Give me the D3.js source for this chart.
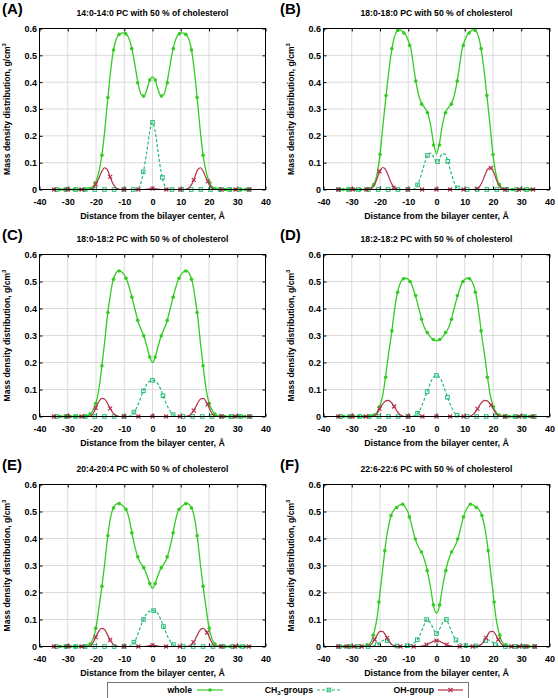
<!DOCTYPE html>
<html><head><meta charset="utf-8">
<script src="https://cdn.jsdelivr.net/npm/d3@7"></script>
<style>body{margin:0;background:#fff}svg{display:block}</style>
</head><body>
<svg id="c" width="558" height="698"></svg>
<script>
// ---------- tick labels / text ----------
const xTicks = [-40,-30,-20,-10,0,10,20,30,40];
const yTicks = [0,0.1,0.2,0.3,0.4,0.5,0.6];
const panelLetters = ["(A)","(B)","(C)","(D)","(E)","(F)"];
const panelTitles = [
  "14:0-14:0 PC with 50 % of cholesterol",
  "18:0-18:0 PC with 50 % of cholesterol",
  "18:0-18:2 PC with 50 % of cholesterol",
  "18:2-18:2 PC with 50 % of cholesterol",
  "20:4-20:4 PC with 50 % of cholesterol",
  "22:6-22:6 PC with 50 % of cholesterol"
];
const seriesNames = ["whole","CH3-groups","OH-group"];

// ---------- panel A ----------
const wholeLineA = [[-35,0],[-24,0],[-23,0.001],[-22,0.004],[-21,0.012],[-20,0.03],[-19,0.065],[-18,0.122],[-17,0.21],[-16,0.32],[-15,0.425],[-14,0.508],[-13,0.556],[-12,0.576],[-11,0.583],[-10,0.584],[-9,0.576],[-8,0.553],[-7,0.51],[-6,0.45],[-5,0.39],[-4,0.354],[-3,0.348],[-2,0.372],[-1,0.406],[0,0.42],[1,0.406],[2,0.372],[3,0.348],[4,0.354],[5,0.39],[6,0.45],[7,0.51],[8,0.553],[9,0.576],[10,0.584],[11,0.583],[12,0.576],[13,0.556],[14,0.508],[15,0.425],[16,0.32],[17,0.21],[18,0.122],[19,0.065],[20,0.03],[21,0.012],[22,0.004],[23,0.001],[24,0],[35,0]];
const wholePtsA = [[-32.9,0],[-31.2,0],[-29.5,0],[-27.7,0],[-25.8,0],[-24,0],[-22.2,0.004],[-20.3,0.025],[-17.9,0.128],[-15.8,0.343],[-13.8,0.52],[-11.8,0.578],[-9.5,0.58],[-7.35,0.525],[-5.25,0.398],[-3.15,0.348],[-1,0.408],[1,0.408],[3.15,0.348],[5.25,0.398],[7.35,0.525],[9.5,0.58],[11.8,0.578],[13.8,0.52],[15.8,0.343],[17.9,0.128],[20.3,0.025],[22.2,0.004],[24,0],[25.8,0],[27.7,0],[29.5,0],[31.2,0],[32.9,0]];
const ch3LineA = [[-35,0],[-6,0],[-5,0.005],[-4,0.028],[-3,0.078],[-2,0.14],[-1,0.215],[0,0.25],[1,0.213],[2,0.138],[3,0.068],[4,0.024],[5,0.005],[6,0],[35,0]];
const ch3PtsA = [[-34,0],[-30.6,0],[-27.2,0],[-23.8,0],[-20.4,0],[-17,0],[-13.6,0],[-10.2,0],[-6.8,0],[-3.3,0.066],[0,0.25],[3.5,0.045],[6.9,0],[10.3,0],[13.7,0],[17.1,0],[20.5,0],[23.9,0],[27.3,0],[30.7,0],[34.1,0]];
const ohLineA = [[-35,0],[-22,0],[-21,0.006],[-20,0.02],[-19,0.042],[-18,0.066],[-17,0.081],[-16,0.074],[-15,0.047],[-14,0.022],[-13,0.007],[-12,0.002],[-11,0],[-3,0],[-1,0.002],[0,0.003],[1,0.002],[3,0],[11,0],[12,0.002],[13,0.007],[14,0.022],[15,0.047],[16,0.074],[17,0.081],[18,0.066],[19,0.042],[20,0.02],[21,0.006],[22,0],[35,0]];
const ohPtsA = [[-34.8,0],[-30,0],[-25.1,0],[-20.1,0.02],[-15,0.047],[-10,0],[-5,0],[0,0.003],[4.9,0],[9.8,0],[14.6,0.036],[19.6,0.03],[24.5,0],[29.4,0],[34.3,0]];

// ---------- panel B ----------
const wholeLineB = [[-35,0],[-26,0],[-25,0.001],[-24,0.003],[-23,0.008],[-22,0.022],[-21,0.06],[-20,0.13],[-19,0.235],[-18,0.335],[-17,0.43],[-16,0.51],[-15,0.565],[-14,0.59],[-13,0.596],[-12,0.589],[-11,0.578],[-10,0.555],[-9,0.52],[-8,0.45],[-7,0.385],[-6,0.34],[-5,0.316],[-4,0.302],[-3,0.282],[-2,0.235],[-1,0.17],[0,0.133],[1,0.17],[2,0.235],[3,0.282],[4,0.302],[5,0.316],[6,0.34],[7,0.385],[8,0.45],[9,0.52],[10,0.555],[11,0.578],[12,0.589],[13,0.596],[14,0.59],[15,0.565],[16,0.51],[17,0.43],[18,0.335],[19,0.235],[20,0.13],[21,0.06],[22,0.022],[23,0.008],[24,0.003],[25,0.001],[26,0],[35,0]];
const wholePtsB = [[-33,0],[-31,0],[-29,0],[-26.9,0],[-24.7,0.003],[-22.3,0.018],[-20,0.13],[-17.85,0.35],[-15.8,0.525],[-13.7,0.593],[-11.55,0.583],[-9.5,0.537],[-7.35,0.404],[-5.25,0.318],[-3.2,0.286],[-1.05,0.166],[1.05,0.166],[3.2,0.286],[5.25,0.318],[7.35,0.404],[9.5,0.537],[11.55,0.583],[13.7,0.593],[15.8,0.525],[17.85,0.35],[20,0.13],[22.3,0.018],[24.7,0.003],[26.9,0],[29,0],[31,0],[33,0]];
const ch3LineB = [[-35,0],[-9,0],[-8,0.002],[-7,0.01],[-6,0.035],[-5,0.07],[-4,0.105],[-3,0.13],[-2,0.136],[-1,0.12],[0,0.102],[1,0.112],[2,0.134],[3,0.132],[4,0.105],[5,0.068],[6,0.034],[7,0.01],[8,0.002],[9,0],[35,0]];
const ch3PtsB = [[-34.65,0],[-31.15,0],[-27.65,0],[-24.15,0],[-20.65,0],[-17.15,0],[-13.65,0],[-10.15,0],[-6.7,0.017],[-3.2,0.127],[0.35,0.104],[4,0.105],[7.4,0.006],[10.85,0],[14.35,0],[17.85,0],[21.35,0],[24.85,0],[28.35,0],[31.85,0]];
const ohLineB = [[-35,0],[-25,0],[-24,0.001],[-23,0.004],[-22,0.015],[-21,0.042],[-20,0.07],[-19,0.082],[-18,0.074],[-17,0.05],[-16,0.024],[-15,0.008],[-14,0.002],[-13,0],[13,0],[14,0.002],[15,0.008],[16,0.024],[17,0.05],[18,0.074],[19,0.082],[20,0.07],[21,0.042],[22,0.015],[23,0.004],[24,0.001],[25,0],[35,0]];
const ohPtsB = [[-34.7,0],[-29.7,0],[-24.8,0],[-20.2,0.068],[-15.2,0.007],[-10.1,0],[-5.1,0],[0,0],[4.8,0],[9.6,0],[14.4,0.003],[19.3,0.08],[24.3,0],[29.2,0],[34.2,0]];

// ---------- panel C ----------
const wholeLineC = [[-35,0],[-25,0],[-24,0.001],[-23,0.003],[-22,0.01],[-21,0.025],[-20,0.05],[-19,0.1],[-18,0.18],[-17,0.27],[-16,0.37],[-15,0.445],[-14,0.503],[-13,0.53],[-12,0.54],[-11,0.536],[-10,0.524],[-9,0.503],[-8,0.47],[-7,0.43],[-6,0.388],[-5,0.348],[-4,0.322],[-3,0.296],[-2,0.26],[-1,0.222],[0,0.2],[1,0.222],[2,0.26],[3,0.296],[4,0.322],[5,0.348],[6,0.388],[7,0.43],[8,0.47],[9,0.503],[10,0.524],[11,0.536],[12,0.54],[13,0.53],[14,0.503],[15,0.445],[16,0.37],[17,0.27],[18,0.18],[19,0.1],[20,0.05],[21,0.025],[22,0.01],[23,0.003],[24,0.001],[25,0],[35,0]];
const wholePtsC = [[-32.7,0],[-30.9,0],[-29.1,0],[-27.4,0],[-25.6,0],[-24,0.001],[-22.1,0.009],[-20.1,0.048],[-17.9,0.188],[-15.8,0.385],[-13.8,0.508],[-11.8,0.539],[-9.4,0.512],[-7.3,0.442],[-5.2,0.356],[-3.1,0.299],[-0.95,0.22],[0.95,0.22],[3.1,0.299],[5.2,0.356],[7.3,0.442],[9.4,0.512],[11.8,0.539],[13.8,0.508],[15.8,0.385],[17.9,0.188],[20.1,0.048],[22.1,0.009],[24,0.001],[25.6,0],[27.4,0],[29.1,0],[30.9,0],[32.7,0]];
const ch3LineC = [[-35,0],[-9,0],[-8,0.002],[-7,0.01],[-6,0.025],[-5,0.047],[-4,0.075],[-3,0.1],[-2,0.12],[-1,0.131],[0,0.134],[1,0.131],[2,0.12],[3,0.098],[4,0.07],[5,0.045],[6,0.024],[7,0.01],[8,0.002],[9,0],[35,0]];
const ch3PtsC = [[-34,0],[-30.6,0],[-27.2,0],[-23.8,0],[-20.4,0],[-17,0],[-13.6,0],[-10.1,0],[-6.6,0.016],[-3.2,0.095],[0,0.134],[3.7,0.077],[7.3,0.007],[10.8,0],[14.2,0],[17.6,0],[21,0],[24.4,0],[27.8,0],[31.2,0],[34.6,0]];
const ohLineC = [[-35,0],[-23,0],[-22,0.002],[-21,0.012],[-20,0.033],[-19,0.055],[-18,0.067],[-17,0.065],[-16,0.05],[-15,0.03],[-14,0.013],[-13,0.004],[-12,0.001],[-11,0],[11,0],[12,0.001],[13,0.004],[14,0.013],[15,0.03],[16,0.05],[17,0.065],[18,0.067],[19,0.055],[20,0.033],[21,0.012],[22,0.002],[23,0],[35,0]];
const ohPtsC = [[-34.9,0],[-30,0],[-25.1,0],[-20.1,0.032],[-15,0.03],[-10,0],[-5,0],[0,0],[4.8,0],[9.7,0],[14.6,0.022],[19.5,0.045],[24.4,0],[29.3,0],[34.2,0]];

// ---------- panel D ----------
const wholeLineD = [[-35,0],[-25,0],[-24,0.001],[-23,0.002],[-22,0.006],[-21,0.017],[-20,0.04],[-19,0.08],[-18,0.15],[-17,0.23],[-16,0.3],[-15,0.385],[-14,0.45],[-13,0.49],[-12,0.508],[-11,0.512],[-10,0.508],[-9,0.495],[-8,0.465],[-7,0.43],[-6,0.39],[-5,0.35],[-4,0.323],[-3,0.307],[-2,0.293],[-1,0.284],[0,0.281],[1,0.284],[2,0.293],[3,0.307],[4,0.323],[5,0.35],[6,0.39],[7,0.43],[8,0.465],[9,0.495],[10,0.508],[11,0.512],[12,0.508],[13,0.49],[14,0.45],[15,0.385],[16,0.3],[17,0.23],[18,0.15],[19,0.08],[20,0.04],[21,0.017],[22,0.006],[23,0.002],[24,0.001],[25,0],[35,0]];
const wholePtsD = [[-32.9,0],[-31.2,0],[-29.4,0],[-27.6,0],[-25.8,0],[-24,0.001],[-22.2,0.005],[-20.15,0.036],[-18,0.145],[-15.8,0.317],[-13.75,0.46],[-11.7,0.51],[-9.4,0.5],[-7.4,0.448],[-5.3,0.36],[-3.25,0.311],[-1.15,0.285],[1.15,0.285],[3.25,0.311],[5.3,0.36],[7.4,0.448],[9.4,0.5],[11.7,0.51],[13.75,0.46],[15.8,0.317],[18,0.145],[20.15,0.036],[22.2,0.005],[24,0.001],[25.8,0],[27.6,0],[29.4,0],[31.2,0],[32.9,0]];
const ch3LineD = [[-35,0],[-9,0],[-8,0.002],[-7,0.008],[-6,0.022],[-5,0.045],[-4,0.072],[-3,0.1],[-2,0.128],[-1,0.146],[0,0.152],[1,0.146],[2,0.128],[3,0.098],[4,0.068],[5,0.042],[6,0.02],[7,0.007],[8,0.002],[9,0],[35,0]];
const ch3PtsD = [[-34,0],[-30.6,0],[-27.2,0],[-23.8,0],[-20.4,0],[-17,0],[-13.6,0],[-10.1,0],[-6.7,0.012],[-3.3,0.092],[0,0.152],[3.9,0.071],[7.3,0.005],[10.8,0],[14.2,0],[17.6,0],[21,0],[24.4,0],[27.8,0],[31.2,0],[34.6,0]];
const ohLineD = [[-35,0],[-23,0],[-22,0.003],[-21,0.012],[-20,0.03],[-19,0.047],[-18,0.058],[-17,0.06],[-16,0.052],[-15,0.037],[-14,0.02],[-13,0.008],[-12,0.002],[-11,0],[11,0],[12,0.002],[13,0.008],[14,0.02],[15,0.037],[16,0.052],[17,0.06],[18,0.058],[19,0.047],[20,0.03],[21,0.012],[22,0.003],[23,0],[35,0]];
const ohPtsD = [[-34.8,0],[-29.9,0],[-25,0],[-20.2,0.029],[-15,0.037],[-10,0],[-5,0],[0,0],[4.8,0],[9.6,0],[14.5,0.028],[19.3,0.042],[24.2,0],[29.2,0],[34.1,0]];

// ---------- panel E ----------
const wholeLineE = [[-35,0],[-25,0],[-24,0.001],[-23,0.003],[-22,0.01],[-21,0.03],[-20,0.07],[-19,0.14],[-18,0.215],[-17,0.3],[-16,0.395],[-15,0.47],[-14,0.51],[-13,0.526],[-12,0.53],[-11,0.525],[-10,0.515],[-9,0.5],[-8,0.46],[-7,0.405],[-6,0.36],[-5,0.325],[-4,0.305],[-3,0.29],[-2,0.265],[-1,0.235],[0,0.216],[1,0.235],[2,0.265],[3,0.29],[4,0.305],[5,0.325],[6,0.36],[7,0.405],[8,0.46],[9,0.5],[10,0.515],[11,0.525],[12,0.53],[13,0.526],[14,0.51],[15,0.47],[16,0.395],[17,0.3],[18,0.215],[19,0.14],[20,0.07],[21,0.03],[22,0.01],[23,0.003],[24,0.001],[25,0],[35,0]];
const wholePtsE = [[-32.7,0],[-30.9,0],[-29.1,0],[-27.4,0],[-25.6,0],[-24,0.001],[-22.1,0.009],[-20.1,0.068],[-17.9,0.223],[-15.8,0.41],[-13.8,0.513],[-11.8,0.529],[-9.4,0.508],[-7.3,0.421],[-5.2,0.332],[-3.1,0.292],[-0.95,0.233],[0.95,0.233],[3.1,0.292],[5.2,0.332],[7.3,0.421],[9.4,0.508],[11.8,0.529],[13.8,0.513],[15.8,0.41],[17.9,0.223],[20.1,0.068],[22.1,0.009],[24,0.001],[25.6,0],[27.4,0],[29.1,0],[30.9,0],[32.7,0]];
const ch3LineE = [[-35,0],[-9,0],[-8,0.002],[-7,0.009],[-6,0.025],[-5,0.05],[-4,0.08],[-3,0.104],[-2,0.122],[-1,0.131],[0,0.134],[1,0.131],[2,0.12],[3,0.098],[4,0.072],[5,0.045],[6,0.024],[7,0.009],[8,0.002],[9,0],[35,0]];
const ch3PtsE = [[-34,0],[-30.6,0],[-27.2,0],[-23.8,0],[-20.4,0],[-17,0],[-13.6,0],[-10.1,0],[-6.6,0.016],[-3.2,0.1],[0.4,0.133],[3.9,0.074],[7.4,0.007],[10.9,0],[14.4,0],[17.9,0],[21.4,0],[24.9,0],[28.4,0],[31.9,0]];
const ohLineE = [[-35,0],[-23,0],[-22,0.002],[-21,0.015],[-20,0.037],[-19,0.057],[-18,0.067],[-17,0.063],[-16,0.045],[-15,0.024],[-14,0.01],[-13,0.003],[-12,0],[-3,0],[-1,0.003],[0,0.004],[1,0.003],[3,0],[12,0],[13,0.003],[14,0.01],[15,0.024],[16,0.045],[17,0.063],[18,0.067],[19,0.057],[20,0.037],[21,0.015],[22,0.002],[23,0],[35,0]];
const ohPtsE = [[-34.9,0],[-30,0],[-25.1,0],[-20.1,0.035],[-15,0.024],[-10,0],[-5,0],[0,0.004],[4.8,0],[9.7,0],[14.5,0.016],[19.3,0.052],[24.3,0],[29.2,0],[34.1,0]];

// ---------- panel F ----------
const wholeLineF = [[-35,0],[-27,0],[-26,0.001],[-25,0.003],[-24,0.008],[-23,0.02],[-22,0.055],[-21,0.11],[-20,0.2],[-19,0.29],[-18,0.38],[-17,0.445],[-16,0.487],[-15,0.507],[-14,0.516],[-13,0.524],[-12,0.527],[-11,0.515],[-10,0.495],[-9,0.458],[-8,0.415],[-7,0.382],[-6,0.362],[-5,0.343],[-4,0.312],[-3,0.268],[-2,0.212],[-1,0.148],[0,0.124],[1,0.148],[2,0.212],[3,0.268],[4,0.312],[5,0.343],[6,0.362],[7,0.382],[8,0.415],[9,0.458],[10,0.495],[11,0.515],[12,0.527],[13,0.524],[14,0.516],[15,0.507],[16,0.487],[17,0.445],[18,0.38],[19,0.29],[20,0.2],[21,0.11],[22,0.055],[23,0.02],[24,0.008],[25,0.003],[26,0.001],[27,0],[35,0]];
const wholePtsF = [[-32.7,0],[-30.6,0],[-28.6,0],[-26.7,0.001],[-24.6,0.006],[-22.4,0.042],[-20.4,0.165],[-18.3,0.355],[-16.1,0.485],[-14.1,0.515],[-12,0.527],[-9.6,0.48],[-7.5,0.398],[-5.35,0.35],[-3.3,0.281],[-1.1,0.154],[1.1,0.154],[3.3,0.281],[5.35,0.35],[7.5,0.398],[9.6,0.48],[12,0.527],[14.1,0.515],[16.1,0.485],[18.3,0.355],[20.4,0.165],[22.4,0.042],[24.6,0.006],[26.7,0.001],[28.6,0],[30.6,0],[32.7,0]];
const ch3LineF = [[-35,0],[-24,0],[-23,0.001],[-22,0.003],[-21,0.007],[-20,0.014],[-19,0.022],[-18,0.025],[-17,0.02],[-16,0.01],[-15,0.004],[-14,0.002],[-11,0.002],[-10,0.004],[-9,0.007],[-8,0.013],[-7,0.022],[-6,0.04],[-5,0.064],[-4,0.09],[-3.5,0.1],[-3,0.097],[-2,0.085],[-1,0.062],[0,0.048],[1,0.062],[2,0.085],[3,0.097],[3.5,0.1],[4,0.09],[5,0.064],[6,0.04],[7,0.022],[8,0.013],[9,0.007],[10,0.004],[11,0.002],[14,0.002],[15,0.004],[16,0.01],[17,0.02],[18,0.025],[19,0.022],[20,0.014],[21,0.007],[22,0.003],[23,0.001],[24,0],[35,0]];
const ch3PtsF = [[-34.4,0],[-31,0],[-27.6,0],[-24.2,0],[-21,0.007],[-17.4,0.022],[-14,0.002],[-10.3,0.003],[-6.8,0.025],[-3.5,0.1],[0,0.048],[3.5,0.1],[6.9,0.024],[10.4,0.003],[13.9,0.002],[17.4,0.022],[20.9,0.007],[24.4,0],[27.8,0],[31.3,0],[34.7,0]];
const ohLineF = [[-35,0],[-25,0],[-24,0.002],[-23,0.009],[-22,0.024],[-21,0.043],[-20,0.056],[-19,0.055],[-18,0.041],[-17,0.023],[-16,0.009],[-15,0.003],[-14,0],[-6,0],[-5,0.002],[-4,0.005],[-3,0.009],[-2,0.015],[-1,0.02],[0,0.022],[1,0.02],[2,0.015],[3,0.009],[4,0.005],[5,0.002],[6,0],[14,0],[15,0.003],[16,0.009],[17,0.023],[18,0.041],[19,0.055],[20,0.056],[21,0.043],[22,0.024],[23,0.009],[24,0.002],[25,0],[35,0]];
const ohPtsF = [[-34.8,0],[-31.8,0],[-29.3,0],[-26.5,0],[-21.9,0.026],[-17.5,0.032],[-12.8,0],[-8.1,0],[-3.5,0.007],[0,0.022],[3.6,0.007],[8.2,0],[12.8,0],[17.5,0.032],[21.9,0.026],[26.5,0],[29.3,0],[31.8,0],[34.8,0]];

// ---------- assembly ----------
const wholeLines = [wholeLineA, wholeLineB, wholeLineC, wholeLineD, wholeLineE, wholeLineF];
const wholePts   = [wholePtsA, wholePtsB, wholePtsC, wholePtsD, wholePtsE, wholePtsF];
const ch3Lines   = [ch3LineA, ch3LineB, ch3LineC, ch3LineD, ch3LineE, ch3LineF];
const ch3Pts     = [ch3PtsA, ch3PtsB, ch3PtsC, ch3PtsD, ch3PtsE, ch3PtsF];
const ohLines    = [ohLineA, ohLineB, ohLineC, ohLineD, ohLineE, ohLineF];
const ohPts      = [ohPtsA, ohPtsB, ohPtsC, ohPtsD, ohPtsE, ohPtsF];

const FONT = '"Liberation Sans", Arial, Helvetica, sans-serif';
const C_WHOLE = '#33cc22', C_CH3 = '#22bb77', C_OH = '#b3304c';
const colX = [39.5, 323.5], colW = 226;
const rowY = [[28.5,189.5],[254.5,416.5],[484.5,646.5]];
const letterX = [2, 280];

const svg = d3.select('#c');
svg.append('rect').attr('width',558).attr('height',698).attr('fill','#fff');

function markers(g, pts, type, color, x, y) {
  const s = g.append('g');
  if (type === 'circle') {
    s.selectAll('circle').data(pts).join('circle')
      .attr('cx', d => x(d[0])).attr('cy', d => y(d[1])).attr('r', 1.8).attr('fill', color);
  } else if (type === 'square') {
    s.selectAll('rect').data(pts).join('rect')
      .attr('x', d => x(d[0]) - 1.8).attr('y', d => y(d[1]) - 1.8)
      .attr('width', 3.6).attr('height', 3.6)
      .attr('fill', 'none').attr('stroke', color).attr('stroke-width', 1);
  } else {
    s.selectAll('path').data(pts).join('path')
      .attr('d', d => { const cx = x(d[0]), cy = y(d[1]);
        return `M${cx-2},${cy-2}L${cx+2},${cy+2}M${cx-2},${cy+2}L${cx+2},${cy-2}`; })
      .attr('stroke', color).attr('stroke-width', 1.2).attr('fill', 'none');
  }
}

panelTitles.forEach((title, i) => {
  const c = i % 2, r = Math.floor(i / 2);
  const x0 = colX[c], x1 = x0 + colW, y0 = rowY[r][0], y1 = rowY[r][1];
  const x = d3.scaleLinear().domain([-40, 40]).range([x0, x1]);
  const y = d3.scaleLinear().domain([0, 0.6]).range([y1, y0]);
  const g = svg.append('g');

  // grid
  g.append('g').selectAll('line').data(xTicks.slice(1, -1)).join('line')
    .attr('x1', d => x(d)).attr('x2', d => x(d)).attr('y1', y0).attr('y2', y1)
    .attr('stroke', '#d2d2d2').attr('stroke-width', 0.8);
  g.append('g').selectAll('line').data(yTicks.slice(1, -1)).join('line')
    .attr('y1', d => y(d)).attr('y2', d => y(d)).attr('x1', x0).attr('x2', x1)
    .attr('stroke', '#d2d2d2').attr('stroke-width', 0.8);

  // axes (ticks inward, mirrored)
  const styleAxis = sel => {
    sel.select('.domain').remove();
    sel.selectAll('line').attr('stroke', '#000');
    sel.selectAll('text').attr('font-family', FONT).attr('font-weight', 'bold')
      .attr('font-size', 9).attr('fill', '#000');
  };
  g.append('g').attr('transform', `translate(0,${y1})`)
    .call(d3.axisBottom(x).tickValues(xTicks).tickSize(-3).tickPadding(9).tickFormat(d => String(d)))
    .call(styleAxis);
  g.append('g').attr('transform', `translate(0,${y0})`)
    .call(d3.axisTop(x).tickValues(xTicks).tickSize(-3).tickFormat(''))
    .call(styleAxis);
  g.append('g').attr('transform', `translate(${x0},0)`)
    .call(d3.axisLeft(y).tickValues(yTicks).tickSize(-3).tickPadding(2.5)
      .tickFormat(d => d === 0 ? '0' : d3.format('.1f')(d)))
    .call(styleAxis);
  g.append('g').attr('transform', `translate(${x1},0)`)
    .call(d3.axisRight(y).tickValues(yTicks).tickSize(-3).tickFormat(''))
    .call(styleAxis);

  // series
  const line = d3.line().x(d => x(d[0])).y(d => y(d[1])).curve(d3.curveMonotoneX);
  g.append('path').datum(wholeLines[i]).attr('d', line).attr('fill', 'none')
    .attr('stroke', C_WHOLE).attr('stroke-width', 1.3);
  markers(g, wholePts[i], 'circle', C_WHOLE, x, y);
  g.append('path').datum(ch3Lines[i]).attr('d', line).attr('fill', 'none')
    .attr('stroke', C_CH3).attr('stroke-width', 1.2).attr('stroke-dasharray', '3,2');
  markers(g, ch3Pts[i], 'square', C_CH3, x, y);
  g.append('path').datum(ohLines[i]).attr('d', line).attr('fill', 'none')
    .attr('stroke', C_OH).attr('stroke-width', 1.2);
  markers(g, ohPts[i], 'cross', C_OH, x, y);

  // frame
  g.append('rect').attr('x', x0).attr('y', y0).attr('width', x1 - x0).attr('height', y1 - y0)
    .attr('fill', 'none').attr('stroke', '#000').attr('stroke-width', 1);

  // texts
  g.append('text').attr('x', (x0 + x1) / 2).attr('y', y0 - 12.7).attr('text-anchor', 'middle')
    .attr('font-family', FONT).attr('font-weight', 'bold').attr('font-size', 8.6).text(title);
  g.append('text').attr('x', letterX[c]).attr('y', y0 - 14.5)
    .attr('font-family', FONT).attr('font-weight', 'bold').attr('font-size', 15).text(panelLetters[i]);
  g.append('text').attr('x', (x0 + x1) / 2).attr('y', y1 + 29.8).attr('text-anchor', 'middle')
    .attr('font-family', FONT).attr('font-weight', 'bold').attr('font-size', 8.8)
    .text('Distance from the bilayer center, Å');
  const yl = g.append('text')
    .attr('transform', `translate(${x0 - 30},${(y0 + y1) / 2}) rotate(-90)`)
    .attr('text-anchor', 'middle')
    .attr('font-family', FONT).attr('font-weight', 'bold').attr('font-size', 8.6);
  yl.append('tspan').text('Mass density distribution, g/cm');
  yl.append('tspan').attr('font-size', 6).attr('dy', -3.5).text('3');
});

// ---------- legend ----------
const lg = svg.append('g');
lg.append('rect').attr('x', 107.5).attr('y', 682.5).attr('width', 361).attr('height', 20)
  .attr('fill', '#fff').attr('stroke', '#555').attr('stroke-width', 0.8);
const legEnd = [192, 313, 434];
const legSample = [[197, 223], [317, 341], [438, 463]];
const legColors = [C_WHOLE, C_CH3, C_OH];
const legTypes = ['circle', 'square', 'cross'];
seriesNames.forEach((name, k) => {
  const t = lg.append('text').attr('x', legEnd[k]).attr('y', 693).attr('text-anchor', 'end')
    .attr('font-family', FONT).attr('font-weight', 'bold').attr('font-size', 8.7);
  if (name === 'CH3-groups') {
    t.append('tspan').text('CH');
    t.append('tspan').attr('font-size', 6).attr('dy', 2).text('3');
    t.append('tspan').attr('dy', -2).text('-groups');
  } else t.text(name);
  const ln = lg.append('line').attr('x1', legSample[k][0]).attr('x2', legSample[k][1])
    .attr('y1', 690).attr('y2', 690).attr('stroke', legColors[k]).attr('stroke-width', 1.2);
  if (k === 1) ln.attr('stroke-dasharray', '3,2');
  const mid = (legSample[k][0] + legSample[k][1]) / 2;
  const fx = d3.scaleLinear().domain([0, 1]).range([mid, mid + 1]);
  const fy = d3.scaleLinear().domain([0, 1]).range([690, 689]);
  markers(lg, [[0, 0]], legTypes[k], legColors[k], fx, fy);
});
</script>
</body></html>
